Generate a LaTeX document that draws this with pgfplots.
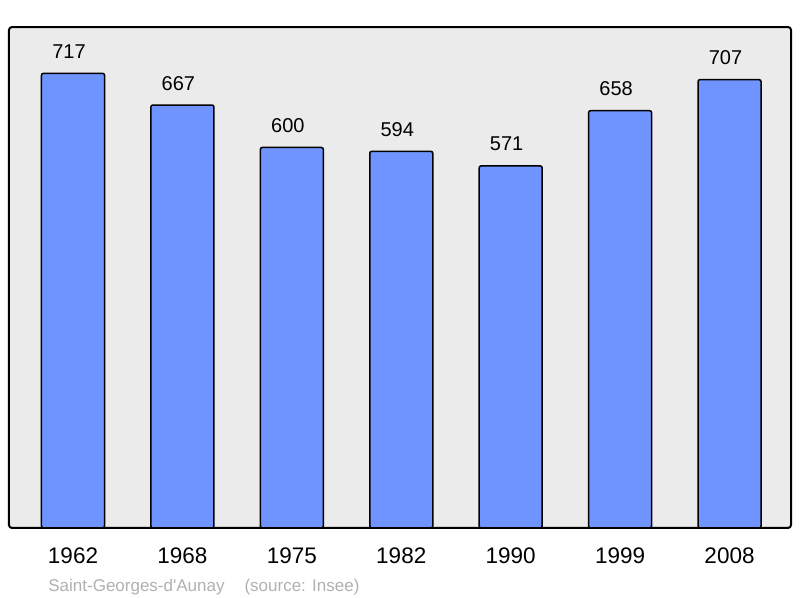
\documentclass[border=0pt]{standalone}
\usepackage{pgfplots}
\pgfplotsset{compat=1.18}
\usepackage{fontspec}
\setmainfont{Liberation Sans}
\definecolor{barblue}{RGB}{112,148,255}
\definecolor{panelbg}{RGB}{235,235,235}
\definecolor{srcgrey}{RGB}{176,176,176}
\begin{document}
\begin{tikzpicture}
\path[use as bounding box] (-4.5pt,-35pt) rectangle (395.5pt,264pt);
\begin{axis}[
  at={(0,0)}, anchor=south west,
  scale only axis,
  width=391pt, height=250.5pt,
  xmin=-0.585, xmax=6.562,
  ymin=0, ymax=790,
  ybar, bar width=0.576,
  xtick={0,1,2,3,4,5,6},
  xticklabels={1962,1968,1975,1982,1990,1999,2008},
  xtick style={draw=none},
  ytick=\empty,
  xticklabel style={font=\fontsize{11.25pt}{13pt}\selectfont, anchor=base, yshift=-13.5pt},
  axis background/.style={fill=panelbg},
  axis line style={line width=1pt, rounded corners=1.5pt},
  /pgf/number format/assume math mode=true,
  nodes near coords,
  nodes near coords style={font=\fontsize{10pt}{12pt}\selectfont, anchor=base, yshift=7.5pt, xshift=-2pt, text=black},
]
\addplot[fill=barblue, draw=black, line width=0.75pt, rounded corners=1pt] coordinates {
  (0,717) (1,667) (2,600) (3,594) (4,571) (5,658) (6,707)
};
\end{axis}
\node[anchor=base west, inner sep=0pt, text=srcgrey, font=\fontsize{8.5pt}{10pt}\selectfont] at (19.5pt,-32pt) {Saint-Georges-d\textquotesingle Aunay\hspace{10pt}(source: Insee)};
\end{tikzpicture}
\end{document}
